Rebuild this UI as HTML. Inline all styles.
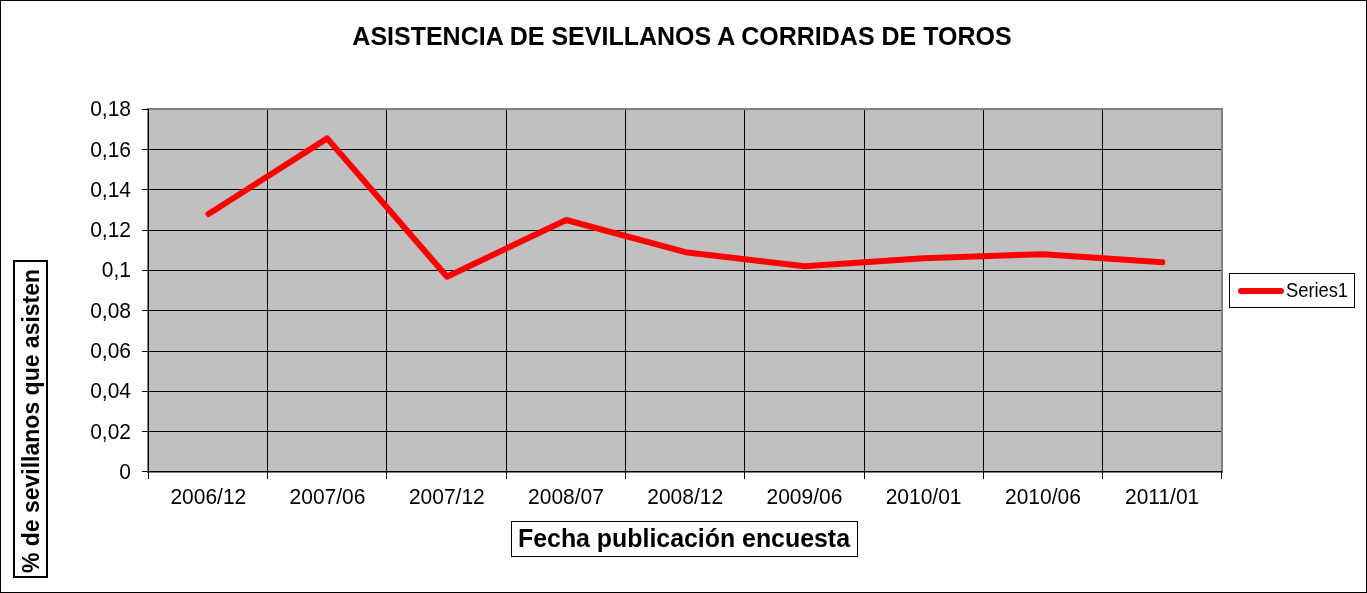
<!DOCTYPE html><html><head><meta charset="utf-8"><style>html,body{margin:0;padding:0;background:#fff;overflow:hidden}svg{display:block;will-change:transform}text{font-family:"Liberation Sans",sans-serif;fill:#000}</style></head><body>
<svg width="1367" height="593" viewBox="0 0 1367 593">
<rect x="0.5" y="0.5" width="1366" height="592" fill="#fff" stroke="#000" stroke-width="1"/>
<rect x="149" y="110" width="1072" height="361" fill="#c0c0c0"/>
<rect x="148" y="109" width="1074" height="363" fill="none" stroke="#808080" stroke-width="2" shape-rendering="crispEdges"/>
<path d="M142 149.5H1221 M142 189.5H1221 M142 230.5H1221 M142 270.5H1221 M142 310.5H1221 M142 351.5H1221 M142 391.5H1221 M142 431.5H1221 M267.5 110V479 M386.5 110V479 M506.5 110V479 M625.5 110V479 M744.5 110V479 M864.5 110V479 M983.5 110V479 M1102.5 110V479 M142 109.5H149 M142 471.5H1222 M148.5 109V479 M1221.5 471V479" stroke="#000" stroke-width="1" fill="none" shape-rendering="crispEdges"/>
<text transform="translate(131.0 479.2) scale(1 1.04)" font-size="21" text-anchor="end">0</text>
<text transform="translate(131.0 439.2) scale(1 1.04)" font-size="21" text-anchor="end">0,02</text>
<text transform="translate(131.0 398.2) scale(1 1.04)" font-size="21" text-anchor="end">0,04</text>
<text transform="translate(131.0 358.2) scale(1 1.04)" font-size="21" text-anchor="end">0,06</text>
<text transform="translate(131.0 318.2) scale(1 1.04)" font-size="21" text-anchor="end">0,08</text>
<text transform="translate(131.0 277.2) scale(1 1.04)" font-size="21" text-anchor="end">0,1</text>
<text transform="translate(131.0 237.2) scale(1 1.04)" font-size="21" text-anchor="end">0,12</text>
<text transform="translate(131.0 197.2) scale(1 1.04)" font-size="21" text-anchor="end">0,14</text>
<text transform="translate(131.0 157.2) scale(1 1.04)" font-size="21" text-anchor="end">0,16</text>
<text transform="translate(131.0 116.2) scale(1 1.04)" font-size="21" text-anchor="end">0,18</text>
<text transform="translate(208.3 504) scale(1 1.04)" font-size="21" text-anchor="middle">2006/12</text>
<text transform="translate(327.5 504) scale(1 1.04)" font-size="21" text-anchor="middle">2007/06</text>
<text transform="translate(446.8 504) scale(1 1.04)" font-size="21" text-anchor="middle">2007/12</text>
<text transform="translate(566.0 504) scale(1 1.04)" font-size="21" text-anchor="middle">2008/07</text>
<text transform="translate(685.2 504) scale(1 1.04)" font-size="21" text-anchor="middle">2008/12</text>
<text transform="translate(804.4 504) scale(1 1.04)" font-size="21" text-anchor="middle">2009/06</text>
<text transform="translate(923.6 504) scale(1 1.04)" font-size="21" text-anchor="middle">2010/01</text>
<text transform="translate(1042.9 504) scale(1 1.04)" font-size="21" text-anchor="middle">2010/06</text>
<text transform="translate(1162.1 504) scale(1 1.04)" font-size="21" text-anchor="middle">2011/01</text>
<polyline points="208.5,214.0 327.2,138.4 447.0,276.7 566.2,220.0 685.4,252.2 804.6,266.3 923.8,258.2 1043.1,254.2 1162.3,262.2" fill="none" stroke="#ff0000" stroke-width="6" stroke-linejoin="round" stroke-linecap="round"/>
<text x="682" y="45" font-size="25" font-weight="bold" text-anchor="middle">ASISTENCIA DE SEVILLANOS A CORRIDAS DE TOROS</text>
<rect x="511.5" y="521.5" width="346" height="35" fill="#fff" stroke="#000" stroke-width="1" shape-rendering="crispEdges"/>
<text x="684" y="547" font-size="24.9" font-weight="bold" text-anchor="middle">Fecha publicación encuesta</text>
<rect x="14" y="261" width="33" height="316" fill="#fff" stroke="#000" stroke-width="2" shape-rendering="crispEdges"/>
<text transform="translate(39 421) rotate(-90)" font-size="23" font-weight="bold" text-anchor="middle">% de sevillanos que asisten</text>
<rect x="1229.5" y="273.5" width="125" height="34" fill="#fff" stroke="#000" stroke-width="1"/>
<path d="M1241 291.1H1281" stroke="#ff0000" stroke-width="6" stroke-linecap="round"/>
<text transform="translate(1286 296.9) scale(0.99 1.07)" font-size="18.5">Series1</text>
</svg></body></html>
